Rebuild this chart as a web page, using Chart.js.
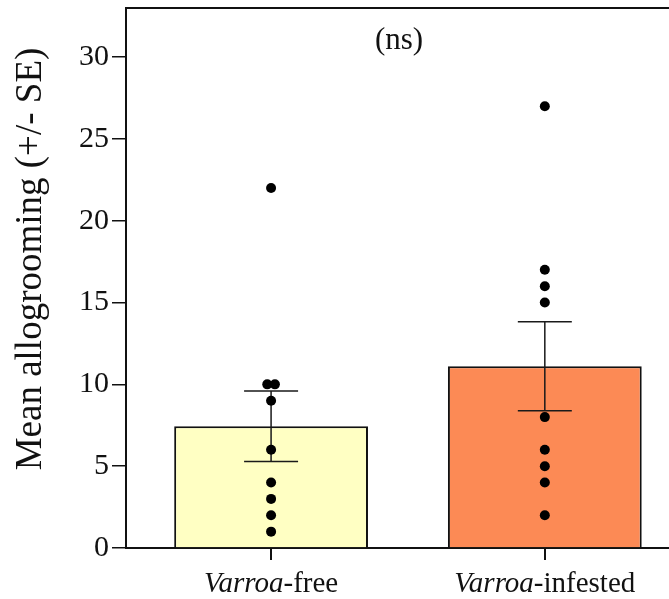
<!DOCTYPE html>
<html>
<head>
<meta charset="utf-8">
<script src="https://cdn.jsdelivr.net/npm/chart.js@4/dist/chart.umd.min.js"></script>
<style>
html,body{margin:0;padding:0;background:#fff;}
#wrap{width:669px;height:599px;position:relative;}
</style>
</head>
<body>
<div id="wrap"><canvas id="c"></canvas></div>
<script>
// ---- data ----
const categories = ["Varroa-free", "Varroa-infested"];
const means = [7.44, 11.11];
const standardErrors = [2.15, 2.72];
const freePoints = [1, 2, 3, 4, 6, 9, 10, 10, 22];
const infestedPoints = [2, 4, 5, 6, 8, 15, 16, 17, 27];
const yTicks = [0, 5, 10, 15, 20, 25, 30];
const annotationText = "(ns)";
const yTitle = "Mean allogrooming (+/- SE)";

const barColors = ["#FFFFC3", "#FC8A55"];
const FONT = "'Liberation Serif','Times New Roman',serif";

function pointsFor(values, idx) {
  // spread tied values side by side
  const seen = {};
  const counts = {};
  values.forEach(v => counts[v] = (counts[v] || 0) + 1);
  return values.map(v => {
    const k = seen[v] || 0; seen[v] = k + 1;
    const n = counts[v];
    const off = (k - (n - 1) / 2) * 0.028;
    return { x: idx + off, y: v };
  });
}
const scatterData = [...pointsFor(freePoints, 0), ...pointsFor(infestedPoints, 1)];

const errorBarPlugin = {
  id: 'errorBars',
  afterDatasetDraw(chart, args) {
    if (args.index !== 0) return;
    const ctx = chart.ctx, xs = chart.scales.x, ys = chart.scales.y;
    ctx.save();
    ctx.strokeStyle = '#1a1a1a';
    ctx.lineWidth = 1.5;
    means.forEach((m, i) => {
      const x = xs.getPixelForValue(i);
      const yHi = ys.getPixelForValue(m + standardErrors[i]);
      const yLo = ys.getPixelForValue(m - standardErrors[i]);
      ctx.beginPath();
      ctx.moveTo(x, yHi); ctx.lineTo(x, yLo);
      ctx.moveTo(x - 27, yHi); ctx.lineTo(x + 27, yHi);
      ctx.moveTo(x - 27, yLo); ctx.lineTo(x + 27, yLo);
      ctx.stroke();
    });
    ctx.restore();
  }
};

const decorPlugin = {
  id: 'decor',
  afterDraw(chart) {
    const ctx = chart.ctx, a = chart.chartArea, xs = chart.scales.x;
    ctx.save();
    // top frame line
    ctx.strokeStyle = '#111';
    ctx.lineWidth = 2;
    ctx.beginPath();
    ctx.moveTo(a.left, a.top); ctx.lineTo(chart.width, a.top);
    ctx.stroke();
    // annotation
    ctx.fillStyle = '#111';
    ctx.font = "31px " + FONT;
    ctx.textAlign = 'center';
    ctx.textBaseline = 'middle';
    ctx.fillText(annotationText, (a.left + a.right) / 2 + 2, a.top + 33);
    // y axis title
    ctx.save();
    ctx.translate(31, (a.top + a.bottom) / 2 - 19);
    ctx.rotate(-Math.PI / 2);
    ctx.font = "37px " + FONT;
    ctx.fillText(yTitle, 0, 0);
    ctx.restore();
    // category labels with italic genus name
    ctx.textBaseline = 'alphabetic';
    ctx.textAlign = 'left';
    categories.forEach((c, i) => {
      const cut = c.indexOf('-');
      const p1 = c.slice(0, cut), p2 = c.slice(cut);
      ctx.font = "italic 29px " + FONT;
      const w1 = ctx.measureText(p1).width;
      ctx.font = "29px " + FONT;
      const w2 = ctx.measureText(p2).width;
      const cx = xs.getPixelForValue(i);
      const x0 = cx - (w1 + w2) / 2;
      ctx.font = "italic 29px " + FONT;
      ctx.fillText(p1, x0, 592);
      ctx.font = "29px " + FONT;
      ctx.fillText(p2, x0 + w1, 592);
    });
    ctx.restore();
  }
};

new Chart(document.getElementById('c'), {
  data: {
    datasets: [
      {
        type: 'bar',
        data: means.map((m, i) => ({ x: i, y: m })),
        backgroundColor: barColors,
        borderColor: '#111',
        borderWidth: 2,
        barPercentage: 1,
        categoryPercentage: 0.708,
        order: 1
      },
      {
        type: 'scatter',
        data: scatterData,
        pointRadius: 5,
        pointBackgroundColor: '#000',
        pointBorderWidth: 0,
        order: 0
      }
    ]
  },
  options: {
    responsive: true,
    maintainAspectRatio: false,
    animation: false,
    layout: { autoPadding: false, padding: { top: 8, right: 1, left: 0, bottom: 0 } },
    plugins: { legend: { display: false }, tooltip: { enabled: false } },
    scales: {
      x: {
        type: 'linear',
        min: -0.53,
        max: 1.45,
        offset: false,
        afterBuildTicks: s => { s.ticks = categories.map((c, i) => ({ value: i })); },
        afterFit: s => { s.height = 51; s.paddingLeft = 0; s.paddingRight = 0; },
        ticks: { callback: () => '', font: { size: 10 } },
        grid: { offset: false, drawOnChartArea: false, drawTicks: true, tickLength: 12, color: '#111', lineWidth: 2 },
        border: { color: '#111', width: 2 }
      },
      y: {
        min: 0,
        max: 33,
        afterBuildTicks: s => { s.ticks = yTicks.map(v => ({ value: v })); },
        afterFit: s => { s.width = 126; s.paddingTop = 0; s.paddingBottom = 0; },
        ticks: { color: '#111', padding: 3, font: { family: FONT, size: 30 } },
        grid: { drawOnChartArea: false, drawTicks: true, tickLength: 14, color: '#111', lineWidth: 1.5 },
        border: { color: '#111', width: 2 },
        title: { display: false }
      }
    }
  },
  plugins: [errorBarPlugin, decorPlugin]
});
</script>
</body>
</html>
